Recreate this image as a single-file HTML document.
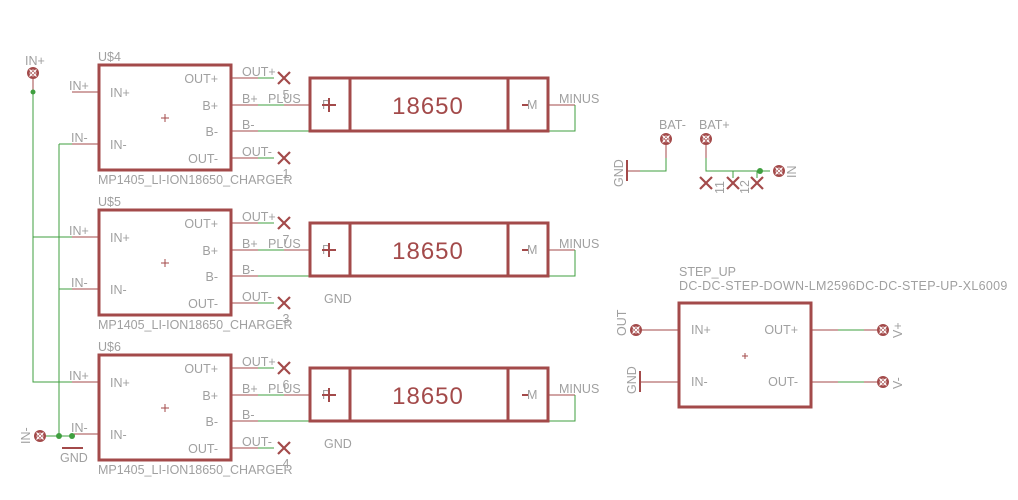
<!DOCTYPE html>
<html><head><meta charset="utf-8"><style>
html,body{margin:0;padding:0;background:#fff;}
svg{display:block;}
text{font-family:"Liberation Sans",sans-serif;fill:#a0a0a0;font-size:12.5px;}
.e{text-anchor:end;}
.m{text-anchor:middle;}
.r{stroke:#a34a4a;stroke-width:1;fill:none;}
.b{stroke:#a34a4a;stroke-width:3;fill:none;}
.g{stroke:#3f9f3f;stroke-width:1;fill:none;}
</style></head><body>
<svg width="1018" height="500" viewBox="0 0 1018 500" xmlns="http://www.w3.org/2000/svg">
<defs>
<g id="pad"><circle r="6" fill="#a34a4a"/><path d="M-3.5,-3.5L3.5,3.5M-3.5,3.5L3.5,-3.5" stroke="#fff" stroke-width="1.2"/><circle r="3" fill="none" stroke="#fff" stroke-width="0.8"/></g>
<g id="xm"><path d="M-6,-6L6,6M-6,6L6,-6" stroke="#a34a4a" stroke-width="2.2"/></g>
<g id="blk">
<rect x="99" y="65" width="132" height="105" class="b"/>
<path class="r" d="M72,92H99M72,144H99M231,78H258M231,105H258M231,131H258M231,158H258M284,105H310M548,105H575"/>
<path class="g" d="M258,78H274M258,105H284M258,131H575V105M258,158H274"/>
<use href="#xm" x="284" y="78"/><use href="#xm" x="284" y="158"/>
<text x="69" y="90">IN+</text><text x="71" y="142">IN-</text>
<text x="110" y="97">IN+</text><text x="110" y="149">IN-</text>
<text class="e" x="218" y="83">OUT+</text><text class="e" x="218" y="110">B+</text><text class="e" x="218" y="136">B-</text><text class="e" x="218" y="163">OUT-</text>
<text x="242" y="76">OUT+</text><text x="242" y="103">B+</text><text x="268" y="103">PLUS</text><text x="242" y="129">B-</text><text x="242" y="156">OUT-</text>
<text x="98" y="184">MP1405_LI-ION18650_CHARGER</text>
<path class="r" d="M161,118h8M165,114v8"/>
<rect x="310" y="78" width="238" height="53" class="b"/>
<path class="b" d="M350,78V131M508,78V131"/>
<text x="322" y="109">P</text>
<path d="M322,105h14M329,98v14" stroke="#a34a4a" stroke-width="2"/>
<path d="M522,105h6" stroke="#a34a4a" stroke-width="2"/>
<text x="527" y="109">M</text>
<text x="428" y="114" class="m" style="fill:#a34a4a;font-size:24px;letter-spacing:1px">18650</text>
<text x="559" y="103">MINUS</text>
</g>
</defs>
<use href="#blk"/>
<use href="#blk" y="145"/>
<use href="#blk" y="290"/>
<text x="98" y="61">U$4</text><text x="98" y="206">U$5</text><text x="98" y="351">U$6</text>
<text class="m" x="286" y="99">5</text><text class="m" x="286" y="178">1</text>
<text class="m" x="286" y="244">7</text><text class="m" x="286" y="323">3</text>
<text class="m" x="286" y="389">6</text><text class="m" x="286" y="468">4</text>
<text x="324" y="303">GND</text><text x="324" y="448">GND</text>
<!-- left rails -->
<path class="g" d="M33,73V382H72M33,237H72M59,144H72M59,144V436M59,289H72M40,436H72"/>
<path class="r" d="M33,73V92"/>
<circle cx="33" cy="92" r="2.5" fill="#3f9f3f"/>
<circle cx="59" cy="436" r="3" fill="#3f9f3f"/><circle cx="72" cy="436" r="3" fill="#3f9f3f"/>
<use href="#pad" x="33" y="73"/><use href="#pad" x="40" y="436"/>
<text x="25" y="65">IN+</text>
<text transform="translate(30,444) rotate(-90)">IN-</text>
<path d="M62,448H83" stroke="#a34a4a" stroke-width="2"/>
<text x="60" y="462">GND</text>
<!-- BAT -->
<use href="#pad" x="666" y="139"/><use href="#pad" x="706" y="139"/><use href="#pad" x="779" y="171"/>
<path class="r" d="M666,139V158M706,139V158M627,171H640"/>
<path class="g" d="M666,158V171H640M706,158V171H770M733,171V178M757,171V178"/>
<circle cx="760" cy="171" r="3" fill="#3f9f3f"/>
<path d="M627,160V181" stroke="#a34a4a" stroke-width="2"/>
<use href="#xm" x="706" y="183"/><use href="#xm" x="733" y="183"/><use href="#xm" x="757" y="183"/>
<text x="659" y="129">BAT-</text><text x="699" y="129">BAT+</text>
<text transform="translate(623,187) rotate(-90)">GND</text>
<text transform="translate(796,178) rotate(-90)">IN</text>
<text transform="translate(724,194) rotate(-90)">11</text>
<text transform="translate(749,194) rotate(-90)">12</text>
<!-- step up -->
<rect x="679" y="303" width="132" height="104" class="b"/>
<path class="r" d="M636,330H679M640,382H679M811,330H838M864,330H883M811,382H838M864,382H883M742,356h6M745,353v6"/>
<path class="g" d="M838,330H864M838,382H864"/>
<path d="M640,371V392" stroke="#a34a4a" stroke-width="2"/>
<use href="#pad" x="636" y="330"/><use href="#pad" x="883" y="330"/><use href="#pad" x="883" y="382"/>
<text x="691" y="334">IN+</text><text x="691" y="386">IN-</text>
<text class="e" x="798" y="334">OUT+</text><text class="e" x="798" y="386">OUT-</text>
<text x="679" y="276">STEP_UP</text>
<text x="679" y="290" style="letter-spacing:0.3px">DC-DC-STEP-DOWN-LM2596DC-DC-STEP-UP-XL6009</text>
<text transform="translate(626,336) rotate(-90)">OUT</text>
<text transform="translate(636,394) rotate(-90)">GND</text>
<text transform="translate(902,338) rotate(-90)">V+</text>
<text transform="translate(902,389) rotate(-90)">V-</text>
</svg>
</body></html>
